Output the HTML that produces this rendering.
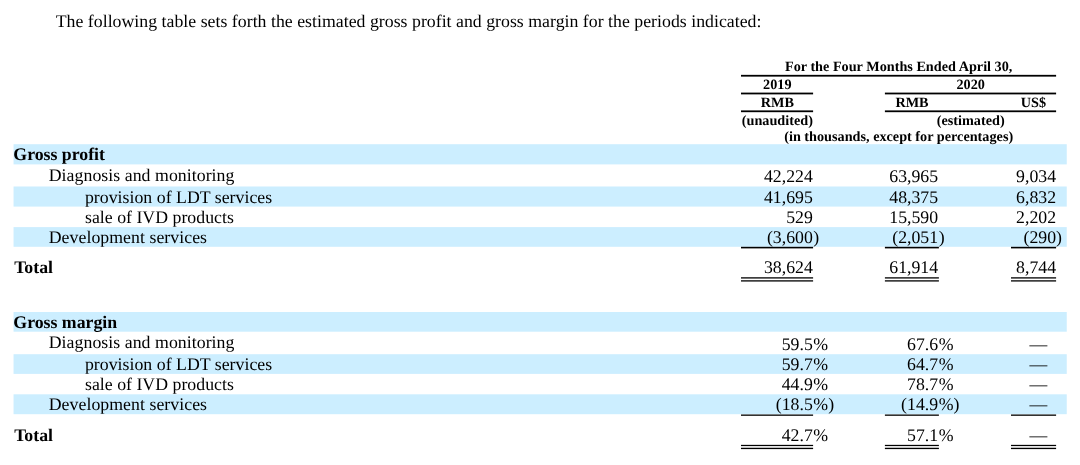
<!DOCTYPE html>
<html lang="en">
<head>
<meta charset="utf-8">
<title>Gross profit and gross margin</title>
<style>
html,body{margin:0;padding:0;background:#fff;}
body{width:1080px;height:465px;overflow:hidden;position:relative;
  font-family:"Liberation Serif","Times New Roman",Times,serif;color:#000;font-size:17.78px;text-rendering:geometricPrecision;font-variant-ligatures:none;}
svg.rules{position:absolute;left:0;top:0;width:1080px;height:465px;display:block;}
p.lead{position:absolute;left:13.33px;top:11px;margin:0;width:1053px;text-indent:42.4px;
  font-size:17.78px;line-height:20px;white-space:nowrap;letter-spacing:0.02px;}
table{position:absolute;left:13.33px;top:58px;width:1053.34px;border-collapse:separate;border-spacing:0;table-layout:fixed;}
td,th{padding:0;margin:0;font-weight:normal;white-space:nowrap;overflow:visible;}
thead th{font-size:14.22px;font-weight:bold;line-height:14px;height:16px;padding-top:2px;box-sizing:border-box;text-align:center;vertical-align:top;}
thead tr.l th{height:18px;}
tbody td{font-size:17.78px;line-height:20px;height:20px;vertical-align:top;}
tbody td.n{text-align:right;padding-right:0.55px;}
tbody td.n:nth-child(6){padding-right:0;}
tbody th{font-size:17.78px;line-height:20px;text-align:left;vertical-align:top;letter-spacing:0.05px;}
tbody tr.tall td{height:23px;padding-top:2px;box-sizing:border-box;}
tbody tr.tall th{padding-top:1px;}
tbody tr.tall2 td{height:22px;padding-top:2px;box-sizing:border-box;}
tbody tr.gap td{height:25px;}
tbody tr.sp2 td{height:11px;line-height:11px;font-size:1px;}
tbody th.b{font-weight:bold;letter-spacing:0;}
tbody th.t{padding-left:0.8px;}
th.i1{padding-left:35.4px;}
th.i2{padding-left:71.65px;letter-spacing:0.02px;}
tr.sp td,tr.sp th{height:10px;line-height:10px;font-size:1px;}
</style>
</head>
<body>
<svg class="rules" width="1080" height="465" viewBox="0 0 1080 465" aria-hidden="true">
<g fill="#cceeff">
<rect x="13.55" y="144.2" width="1053.2" height="20.2"/>
<rect x="13.55" y="186.5" width="1053.2" height="20.1"/>
<rect x="13.55" y="227.1" width="1053.2" height="19.7"/>
<rect x="13.55" y="312" width="1053.2" height="19.7"/>
<rect x="13.55" y="354.2" width="1053.2" height="19.7"/>
<rect x="13.55" y="394.3" width="1053.2" height="19.9"/>
</g>
<g fill="#000">
<rect x="741" y="74.85" width="315.1" height="1.78"/>
<rect x="741" y="92.6" width="72.1" height="1.78"/>
<rect x="884.9" y="92.6" width="171.2" height="1.78"/>
<rect x="741" y="110.4" width="72.1" height="1.78"/>
<rect x="884.9" y="110.4" width="171.2" height="1.78"/>
<rect x="741" y="246.8" width="72.1" height="1.6"/>
<rect x="884.9" y="246.8" width="54" height="1.6"/>
<rect x="1011" y="246.8" width="45.1" height="1.6"/>
<rect x="741" y="277.25" width="72.1" height="1.3"/>
<rect x="884.9" y="277.25" width="54" height="1.3"/>
<rect x="1011" y="277.25" width="45.1" height="1.3"/>
<rect x="741" y="280.25" width="72.1" height="1.3"/>
<rect x="884.9" y="280.25" width="54" height="1.3"/>
<rect x="1011" y="280.25" width="45.1" height="1.3"/>
<rect x="741" y="414.5" width="72.1" height="1.3"/>
<rect x="884.9" y="414.5" width="54" height="1.3"/>
<rect x="1011" y="414.5" width="45.1" height="1.3"/>
<rect x="741" y="444.85" width="72.1" height="1.25"/>
<rect x="884.9" y="444.85" width="54" height="1.25"/>
<rect x="1011" y="444.85" width="45.1" height="1.25"/>
<rect x="741" y="447.75" width="72.1" height="1.35"/>
<rect x="884.9" y="447.75" width="54" height="1.35"/>
<rect x="1011" y="447.75" width="45.1" height="1.35"/>
</g>
</svg>
<p class="lead">The following table sets forth the estimated gross profit and gross margin for the periods indicated:</p>
<table>
<colgroup>
<col style="width:728px"><col style="width:72px"><col style="width:72px"><col style="width:53.33px"><col style="width:72px"><col style="width:45.33px"><col style="width:10.67px">
</colgroup>
<thead>
<tr class="l"><th></th><th colspan="5">For the Four Months Ended April 30,</th><th></th></tr>
<tr class="l"><th></th><th>2019</th><th></th><th colspan="3">2020</th><th></th></tr>
<tr class="l"><th></th><th>RMB</th><th></th><th>RMB</th><th></th><th>US$</th><th></th></tr>
<tr><th></th><th>(unaudited)</th><th></th><th colspan="3">(estimated)</th><th></th></tr>
<tr><th></th><th colspan="5">(in thousands, except for percentages)</th><th></th></tr>
</thead>
<tbody>
<tr class="band"><th class="b">Gross profit</th><td></td><td></td><td></td><td></td><td></td><td></td></tr>
<tr class="tall"><th class="i1">Diagnosis and monitoring</th><td class="n">42,224</td><td></td><td class="n">63,965</td><td></td><td class="n">9,034</td><td></td></tr>
<tr class="band"><th class="i2">provision of LDT services</th><td class="n">41,695</td><td></td><td class="n">48,375</td><td></td><td class="n">6,832</td><td></td></tr>
<tr><th class="i2">sale of IVD products</th><td class="n">529</td><td></td><td class="n">15,590</td><td></td><td class="n">2,202</td><td></td></tr>
<tr class="band"><th class="i1">Development services</th><td class="n">(3,600</td><td>)</td><td class="n">(2,051</td><td>)</td><td class="n">(290</td><td>)</td></tr>
<tr class="sp"><th></th><td></td><td></td><td></td><td></td><td></td><td></td></tr>
<tr><th class="b t">Total</th><td class="n">38,624</td><td></td><td class="n">61,914</td><td></td><td class="n">8,744</td><td></td></tr>
<tr class="sp"><th></th><td></td><td></td><td></td><td></td><td></td><td></td></tr>
<tr class="gap"><th></th><td></td><td></td><td></td><td></td><td></td><td></td></tr>
<tr class="band"><th class="b">Gross margin</th><td></td><td></td><td></td><td></td><td></td><td></td></tr>
<tr class="tall2"><th class="i1">Diagnosis and monitoring</th><td class="n">59.5</td><td>%</td><td class="n">67.6</td><td>%</td><td class="n">—&nbsp;&nbsp;</td><td></td></tr>
<tr class="band"><th class="i2">provision of LDT services</th><td class="n">59.7</td><td>%</td><td class="n">64.7</td><td>%</td><td class="n">—&nbsp;&nbsp;</td><td></td></tr>
<tr><th class="i2">sale of IVD products</th><td class="n">44.9</td><td>%</td><td class="n">78.7</td><td>%</td><td class="n">—&nbsp;&nbsp;</td><td></td></tr>
<tr class="band"><th class="i1">Development services</th><td class="n">(18.5</td><td>%)</td><td class="n">(14.9</td><td>%)</td><td class="n">—&nbsp;&nbsp;</td><td></td></tr>
<tr class="sp2"><th></th><td></td><td></td><td></td><td></td><td></td><td></td></tr>
<tr><th class="b t">Total</th><td class="n">42.7</td><td>%</td><td class="n">57.1</td><td>%</td><td class="n">—&nbsp;&nbsp;</td><td></td></tr>
<tr class="sp"><th></th><td></td><td></td><td></td><td></td><td></td><td></td></tr>
</tbody>
</table>
</body>
</html>
